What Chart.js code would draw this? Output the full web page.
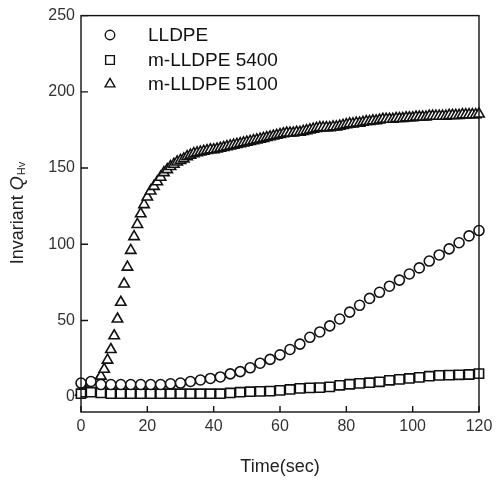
<!DOCTYPE html>
<html>
<head>
<meta charset="utf-8">
<script src="https://cdn.jsdelivr.net/npm/chart.js@4.4.1/dist/chart.umd.min.js"></script>
<style>
    body { margin: 0; background: #fff; }
    #wrap { width: 500px; height: 480px; }
</style>
</head>
<body>
<div id="wrap"><canvas id="qhvChart" width="500" height="480"></canvas></div>
<script>
// time axis (sec)
var timeTri = [
    0, 1, 2, 3, 4, 5, 6, 7, 8, 9,
    10, 11, 12, 13, 14, 15, 16, 17, 18, 19,
    20, 21, 22, 23, 24, 25, 26, 27, 28, 29,
    30, 31, 32, 33, 34, 35, 36, 37, 38, 39,
    40, 41, 42, 43, 44, 45, 46, 47, 48, 49,
    50, 51, 52, 53, 54, 55, 56, 57, 58, 59,
    60, 61, 62, 63, 64, 65, 66, 67, 68, 69,
    70, 71, 72, 73, 74, 75, 76, 77, 78, 79,
    80, 81, 82, 83, 84, 85, 86, 87, 88, 89,
    90, 91, 92, 93, 94, 95, 96, 97, 98, 99,
    100, 101, 102, 103, 104, 105, 106, 107, 108, 109,
    110, 111, 112, 113, 114, 115, 116, 117, 118, 119,
    120
];
var time3s = [
    0, 3, 6, 9, 12, 15, 18, 21, 24, 27,
    30, 33, 36, 39, 42, 45, 48, 51, 54, 57,
    60, 63, 66, 69, 72, 75, 78, 81, 84, 87,
    90, 93, 96, 99, 102, 105, 108, 111, 114, 117,
    120
];

// LLDPE (circles)
var lldpe = [
    9, 10, 8, 8, 8, 8, 8, 8, 8, 8.5,
    9, 10, 11, 12, 13, 15, 16.5, 19, 22, 24.5,
    27.5, 31, 34.5, 39, 42.5, 46.5, 51, 55.5, 60, 64.5,
    68.5, 72.5, 76.5, 80.5, 84.5, 89, 93, 97, 101, 105.5,
    109
];
// m-LLDPE 5400 (squares)
var m5400 = [
    2, 3, 2.5, 2, 2, 2, 2, 2, 2, 2,
    2, 2, 2, 2, 2, 2.5, 3, 3.3, 3.5, 3.7,
    4.2, 4.8, 5.5, 5.8, 6, 6.5, 7.5, 8.2, 8.8, 9.2,
    9.8, 10.8, 11.4, 12, 12.7, 13.5, 14, 14.2, 14.4, 14.6,
    15.2
];
// m-LLDPE 5100 (triangles)
var m5100 = [
    3, 3.5, 4.5, 6, 7.5, 10, 13.5, 18, 24, 31,
    40, 51, 62, 74, 85, 96, 105, 113, 120, 126,
    131, 135, 138, 141, 144, 147, 149, 151, 152.5, 154,
    155, 156, 157.5, 158.5, 159.5, 160, 160.5, 161, 161.5, 162,
    162, 162.5, 163, 163.5, 164, 164.5, 165, 165.5, 166, 166.5,
    167, 167.5, 168, 168.5, 169, 169.5, 170, 170.5, 171, 171.5,
    172, 172.5, 173, 173, 173, 173.5, 173.5, 174, 174.5, 175,
    175.5, 176, 176.5, 176.5, 176.5, 176.5, 177, 177, 177.5, 178,
    178.5, 179, 179, 179.5, 179.5, 180, 180.5, 180.5, 181, 181,
    181.5, 182, 182, 182, 182, 182.5, 182.5, 182.5, 183, 183,
    183, 183.5, 183.5, 183.5, 183.5, 184, 184, 184, 184, 184,
    184, 184.5, 184.5, 184.5, 184.5, 185, 185, 185, 185, 185,
    185.5
];

var xTicks = [0, 20, 40, 60, 80, 100, 120];
var yTicks = [0, 50, 100, 150, 200, 250];
var seriesNames = ['LLDPE', 'm-LLDPE 5400', 'm-LLDPE 5100'];

var FONT = "'Liberation Sans', Arial, sans-serif";

function toPoints(xs, ys) {
    return xs.map(function(x, i) { return { x: x, y: ys[i] }; });
}

function markerDataset(label, data, style, radius) {
    return {
        label: label,
        data: data,
        pointStyle: style,
        pointRadius: radius,
        pointHoverRadius: radius,
        pointBorderWidth: 1.6,
        borderColor: '#111',
        backgroundColor: '#fff',
        showLine: false,
        clip: false
    };
}

// frame + inward ticks
var framePlugin = {
    id: 'frame',
    afterDraw: function(chart) {
        var ctx = chart.ctx, a = chart.chartArea;
        var xs = chart.scales.x, ys = chart.scales.y;
        ctx.save();
        ctx.strokeStyle = '#111';
        ctx.lineWidth = 1.4;
        ctx.strokeRect(a.left, a.top, a.right - a.left, a.bottom - a.top);
        ctx.beginPath();
        xTicks.forEach(function(v) {
            var px = xs.getPixelForValue(v);
            ctx.moveTo(px, a.bottom);
            ctx.lineTo(px, a.bottom - 6);
        });
        yTicks.forEach(function(v) {
            var py = ys.getPixelForValue(v);
            ctx.moveTo(a.left, py);
            ctx.lineTo(a.left + 7, py);
        });
        ctx.stroke();
        ctx.restore();
    }
};

function drawMarker(ctx, style, x, y, r) {
    ctx.beginPath();
    if (style === 'circle') {
        ctx.arc(x, y, r, 0, Math.PI * 2);
    } else if (style === 'rect') {
        var s = r * Math.SQRT1_2;
        ctx.rect(x - s, y - s, 2 * s, 2 * s);
    } else {
        ctx.moveTo(x, y - r);
        ctx.lineTo(x + r * 0.866, y + r * 0.5);
        ctx.lineTo(x - r * 0.866, y + r * 0.5);
        ctx.closePath();
    }
    ctx.fill();
    ctx.stroke();
}

// legend inside plot + y title with italic Q and subscript
var legendPlugin = {
    id: 'insideLegend',
    afterDraw: function(chart) {
        var ctx = chart.ctx;
        ctx.save();
        var rowY = [35, 60, 84];
        chart.data.datasets.forEach(function(ds, i) {
            ctx.fillStyle = '#fff';
            ctx.strokeStyle = '#111';
            ctx.lineWidth = 1.4;
            drawMarker(ctx, ds.pointStyle, 110, rowY[i], ds.pointRadius * 0.95);
            ctx.fillStyle = '#111';
            ctx.font = '19px ' + FONT;
            ctx.textBaseline = 'middle';
            ctx.textAlign = 'left';
            ctx.fillText(ds.label, 148, rowY[i] + 1);
        });

        ctx.translate(18, 213);
        ctx.rotate(-Math.PI / 2);
        ctx.fillStyle = '#222';
        ctx.textBaseline = 'middle';
        ctx.textAlign = 'left';
        var f1 = '18px ' + FONT, f2 = 'italic 18px ' + FONT, f3 = '11px ' + FONT;
        ctx.font = f1; var w1 = ctx.measureText('Invariant ').width;
        ctx.font = f2; var w2 = ctx.measureText('Q').width;
        ctx.font = f3; var w3 = ctx.measureText('Hv').width;
        var x0 = -(w1 + w2 + w3 + 1) / 2;
        ctx.font = f1; ctx.fillText('Invariant ', x0, 0);
        ctx.font = f2; ctx.fillText('Q', x0 + w1, 0);
        ctx.font = f3; ctx.fillText('Hv', x0 + w1 + w2 + 1, 4);
        ctx.restore();
    }
};

var ctx = document.getElementById('qhvChart').getContext('2d');
new Chart(ctx, {
    type: 'scatter',
    data: {
        datasets: [
            markerDataset(seriesNames[0], toPoints(time3s, lldpe), 'circle', 5),
            markerDataset(seriesNames[1], toPoints(time3s, m5400), 'rect', 6.5),
            markerDataset(seriesNames[2], toPoints(timeTri, m5100), 'triangle', 6)
        ]
    },
    options: {
        responsive: false,
        animation: false,
        layout: { padding: { left: 0, right: 21, top: 15, bottom: 0 } },
        plugins: {
            legend: { display: false },
            tooltip: { enabled: false }
        },
        scales: {
            x: {
                type: 'linear',
                min: 0,
                max: 120,
                afterBuildTicks: function(scale) {
                    scale.ticks = xTicks.map(function(v) { return { value: v }; });
                },
                afterFit: function(scale) { scale.height = 68; },
                grid: { display: false, drawTicks: false },
                border: { display: false },
                ticks: {
                    padding: 5,
                    color: '#333',
                    font: { family: FONT, size: 16 }
                },
                title: {
                    display: true,
                    text: 'Time(sec)',
                    color: '#222',
                    padding: { top: 0, bottom: 2 },
                    font: { family: FONT, size: 18 }
                }
            },
            y: {
                type: 'linear',
                min: -10,
                max: 250,
                afterBuildTicks: function(scale) {
                    scale.ticks = yTicks.map(function(v) { return { value: v }; });
                },
                afterFit: function(scale) { scale.width = 81; },
                grid: { display: false, drawTicks: false },
                border: { display: false },
                ticks: {
                    padding: 6,
                    color: '#333',
                    font: { family: FONT, size: 16 }
                }
            }
        }
    },
    plugins: [framePlugin, legendPlugin]
});
</script>
</body>
</html>
